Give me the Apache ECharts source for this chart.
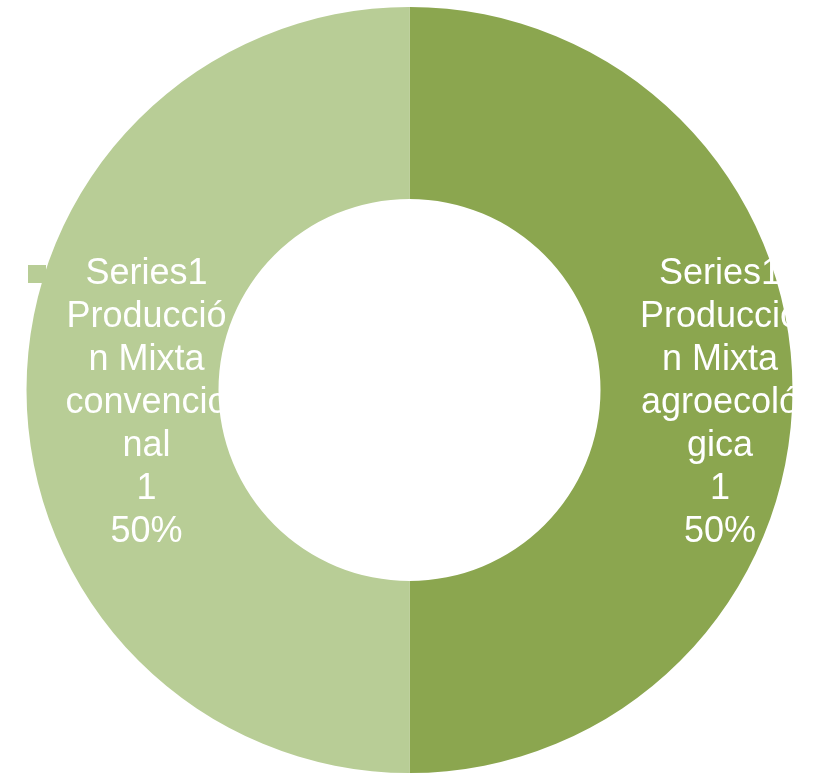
<!DOCTYPE html>
<html>
<head>
<meta charset="utf-8">
<script src="https://cdn.jsdelivr.net/npm/echarts@6/dist/echarts.min.js"></script>
<style>
  html, body { margin: 0; padding: 0; background: #ffffff; }
  #chart { width: 813px; height: 776px; }
</style>
</head>
<body>
<div id="chart"></div>
<script>
const seriesName = 'Series1';
const categories = ['Producción Mixta agroecológica', 'Producción Mixta convencional'];
// category text as wrapped in the original labels
const categoryLabelText = ['Producció\nn Mixta\nagroecoló\ngica', 'Producció\nn Mixta\nconvencio\nnal'];
const values = [1, 1];
const colors = ['#8BA64F', '#B8CD96'];

const chart = echarts.init(document.getElementById('chart'), null, { renderer: 'canvas' });

const option = {
  animation: false,
  backgroundColor: '#ffffff',
  series: [{
    name: seriesName,
    type: 'pie',
    center: [409.5, 390],
    radius: [191, 383],
    startAngle: 90,
    clockwise: true,
    silent: true,
    avoidLabelOverlap: false,
    itemStyle: { borderWidth: 0 },
    labelLine: { show: false },
    label: {
      show: true,
      position: 'inside',
      rotate: 0,
      color: '#ffffff',
      fontFamily: 'Liberation Sans, Arial, sans-serif',
      fontSize: 36,
      lineHeight: 43,
      align: 'center',
      width: 237,
      overflow: 'none',
      formatter: function (p) {
        return '{sq' + p.dataIndex + '|}' + p.seriesName + '{pad|}\n' +
          categoryLabelText[p.dataIndex] + '\n' +
          p.value + '\n' + Math.round(p.percent) + '%';
      },
      rich: {
        sq0: { width: 18, height: 18, backgroundColor: colors[0], align: 'left' },
        sq1: { width: 18, height: 18, backgroundColor: colors[1], align: 'left' },
        pad: { width: 18, height: 18, align: 'right' }
      }
    },
    labelLayout: function (p) {
      return { dx: p.dataIndex === 0 ? 20.5 : 27, dy: 13 };
    },
    data: categories.map(function (c, i) {
      return { name: c, value: values[i], itemStyle: { color: colors[i] } };
    })
  }]
};

chart.setOption(option);
</script>
</body>
</html>
